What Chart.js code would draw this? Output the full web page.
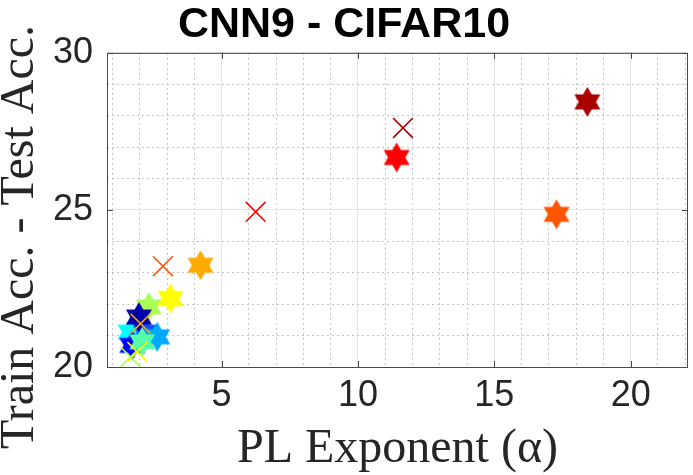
<!DOCTYPE html>
<html>
<head>
<meta charset="utf-8">
<script src="https://cdn.jsdelivr.net/npm/chart.js@4.4.1/dist/chart.umd.min.js"></script>
<style>
  html, body { margin: 0; padding: 0; background: #fff; }
  #wrap { width: 693px; height: 475px; position: relative; }
</style>
</head>
<body>
<div id="wrap"><canvas id="gap-chart"></canvas></div>
<script>
// One star and (for some models) one cross per trained model
const starAlpha = [1.66, 1.73, 2.21, 2.64, 2.09, 2.33, 3.13, 1.97, 4.23, 17.28, 11.42, 18.41];
const starGap = [21.11, 20.69, 21.11, 20.96, 20.80, 21.91, 22.18, 21.59, 23.24, 24.86, 26.67, 28.44];
const starColors = [
  "#00ffff", "#0000ff", "#0055ff", "#00aaff", "#55ffaa", "#aaff55",
  "#ffff00", "#0000aa", "#ffaa00", "#ff5500", "#ff0000", "#aa0000",
];

const crossAlpha = [11.65, 6.25, 2.85, 2.03, 1.91, 1.66];
const crossGap = [27.61, 24.94, 23.21, 21.38, 20.48, 20.32];
const crossColors = ["#aa0000", "#ff0000", "#ff5500", "#ffaa00", "#ffff00", "#aaff55"];

const xTicks = [5, 10, 15, 20];
const xMinorTicks = [1, 2, 3, 4, 6, 7, 8, 9, 11, 12, 13, 14, 16, 17, 18, 19, 21, 22];
const yTicks = [20, 25, 30];
const yMinorTicks = [21, 22, 23, 24, 26, 27, 28, 29];

const TICK_FONT = { family: "'Liberation Sans', Arial, sans-serif", size: 36 };
const LABEL_FAMILY = "'Liberation Serif', 'Times New Roman', serif";
const LABEL_FONT = { family: LABEL_FAMILY, size: 48, lineHeight: 0.9 };
const AXIS_COLOR = "#262626";
const Y_LABEL = "Train Acc. - Test Acc.";

// six-pointed star marker (MATLAB 'h')
function hexagram(color) {
  const c = document.createElement("canvas");
  c.width = 32;
  c.height = 32;
  const g = c.getContext("2d");
  g.beginPath();
  for (let k = 0; k < 12; k++) {
    const r = k % 2 ? 8.7 : 15;
    const a = -Math.PI / 2 + k * Math.PI / 6;
    g.lineTo(16 + r * Math.cos(a), 16 + r * Math.sin(a));
  }
  g.closePath();
  g.fillStyle = color;
  g.fill();
  return c;
}

const setTicks = (list) => (scale) => {
  scale.ticks = list.map((v) => ({ value: v }));
};
// drop the label overhang padding so the axes box keeps its width
const noPad = (size) => (s) => {
  if (s.isHorizontal()) s.height = size; else s.width = size;
  s.paddingLeft = s.paddingRight = s.paddingTop = s.paddingBottom = 0;
};

// box around the axes with inward tick marks, plus the rotated y label
const frame = {
  id: "frame",
  afterDatasetsDraw(chart) {
    const { ctx, chartArea: a, scales } = chart;
    ctx.save();
    ctx.strokeStyle = "#4a4a4a";
    ctx.lineWidth = 1;
    ctx.strokeRect(a.left + 0.5, a.top + 0.5, a.right - a.left - 1, a.bottom - a.top);
    ctx.beginPath();
    for (const v of xTicks) {
      const px = Math.round(scales.x.getPixelForValue(v)) + 0.5;
      ctx.moveTo(px, a.bottom); ctx.lineTo(px, a.bottom - 6);
      ctx.moveTo(px, a.top); ctx.lineTo(px, a.top + 6);
    }
    for (const v of yTicks) {
      const py = Math.round(scales.y.getPixelForValue(v)) + 0.5;
      ctx.moveTo(a.left, py); ctx.lineTo(a.left + 6, py);
      ctx.moveTo(a.right, py); ctx.lineTo(a.right - 6, py);
    }
    ctx.stroke();

    ctx.translate(33, (a.top + a.bottom) / 2 + 27);
    ctx.rotate(-Math.PI / 2);
    ctx.fillStyle = AXIS_COLOR;
    ctx.font = "48px " + LABEL_FAMILY;
    ctx.textAlign = "center";
    ctx.textBaseline = "alphabetic";
    ctx.fillText(Y_LABEL, 0, 0);
    ctx.restore();
  },
};

const ctx = document.getElementById("gap-chart").getContext("2d");
new Chart(ctx, {
  type: "scatter",
  data: {
    datasets: [
      {
        label: "cross",
        data: crossAlpha.map((x, i) => ({ x, y: crossGap[i] })),
        pointStyle: "crossRot",
        pointRadius: 14,
        pointBorderWidth: 1.6,
        pointBorderColor: crossColors,
        pointBackgroundColor: crossColors,
      },
      {
        label: "star",
        data: starAlpha.map((x, i) => ({ x, y: starGap[i] })),
        pointStyle: starColors.map(hexagram),
        pointRadius: 15,
      },
    ],
  },
  options: {
    responsive: true,
    maintainAspectRatio: false,
    animation: false,
    layout: { autoPadding: false, padding: { left: 0, right: 5, top: 0, bottom: 0 } },
    plugins: {
      legend: { display: false },
      tooltip: { enabled: false },
      title: {
        display: true,
        text: "CNN9 - CIFAR10",
        color: "#000",
        font: { family: "'Liberation Sans', Arial, sans-serif", weight: "bold", size: 43, lineHeight: 1.16 },
        padding: { top: 0, bottom: 3 },
      },
    },
    scales: {
      x: {
        type: "linear",
        min: 0.8,
        max: 22.1,
        afterBuildTicks: setTicks(xTicks),
        afterFit: noPad(108),
        ticks: { font: TICK_FONT, color: AXIS_COLOR, padding: 7, maxRotation: 0 },
        grid: { color: "#e4e4e4", lineWidth: 1, drawTicks: false },
        border: { display: false },
        title: { display: true, text: "PL Exponent (\u03b1)", color: AXIS_COLOR, font: LABEL_FONT, padding: { top: 0, bottom: 4 } },
      },
      xMinor: {
        type: "linear",
        position: "bottom",
        min: 0.8,
        max: 22.1,
        afterBuildTicks: setTicks(xMinorTicks),
        afterFit: noPad(0),
        ticks: { display: false },
        grid: { color: "#c4c4c4", lineWidth: 1, drawTicks: false },
        border: { display: false, dash: [2, 3] },
      },
      y: {
        type: "linear",
        min: 20,
        max: 30,
        afterBuildTicks: setTicks(yTicks),
        afterFit: noPad(107),
        ticks: { font: TICK_FONT, color: AXIS_COLOR, padding: 14 },
        grid: { color: "#e4e4e4", lineWidth: 1, drawTicks: false },
        border: { display: false },
      },
      yMinor: {
        type: "linear",
        position: "left",
        min: 20,
        max: 30,
        afterBuildTicks: setTicks(yMinorTicks),
        afterFit: noPad(0),
        ticks: { display: false },
        grid: { color: "#c4c4c4", lineWidth: 1, drawTicks: false },
        border: { display: false, dash: [2, 3] },
      },
    },
  },
  plugins: [frame],
});
</script>
</body>
</html>
